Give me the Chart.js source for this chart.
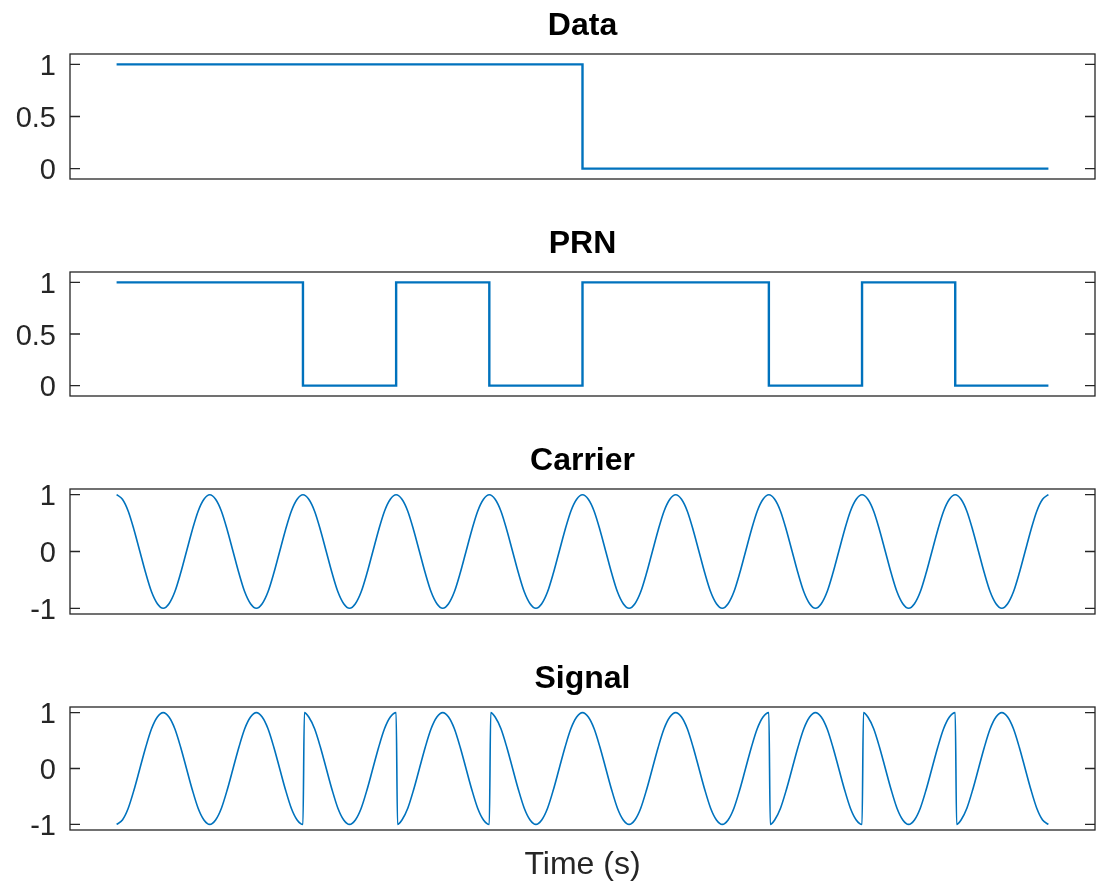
<!DOCTYPE html>
<html>
<head>
<meta charset="utf-8">
<title>Data, PRN, Carrier and Signal</title>
<script src="https://cdn.jsdelivr.net/npm/chart.js@4.4.1/dist/chart.umd.min.js"></script>
<style>
  html, body { margin: 0; padding: 0; background: #ffffff; }
  #fig { position: relative; width: 1096px; height: 890px; overflow: hidden; background: #ffffff; }
  #fig canvas { position: absolute; left: 0; }
</style>
</head>
<body>
<div id="fig">
  <canvas id="panelData"    width="1096" height="181" style="top:10px"></canvas>
  <canvas id="panelPrn"     width="1096" height="180" style="top:228px"></canvas>
  <canvas id="panelCarrier" width="1096" height="181" style="top:445px"></canvas>
  <canvas id="panelSignal"  width="1096" height="227" style="top:663px"></canvas>
</div>
<script>
// ---- data (time in seconds, one chip = 0.1 s) ----
const chipEdges = [0, 0.1, 0.2, 0.3, 0.4, 0.5, 0.6, 0.7, 0.8, 0.9, 1.0];

const dataEdges = [0, 0.5, 1.0];
const dataBits  = [1, 0];

const prnChips = [1, 1, 0, 1, 0, 1, 1, 0, 1, 0];

// carrier sampled every 1/16 of a cycle, one cycle per chip
const sampleStep = 0.00625;
const carrierValues = [
  1, 0.92, 0.71, 0.38, 0, -0.38, -0.71, -0.92, -1, -0.92, -0.71, -0.38, 0, 0.38, 0.71, 0.92,
  1, 0.92, 0.71, 0.38, 0, -0.38, -0.71, -0.92, -1, -0.92, -0.71, -0.38, 0, 0.38, 0.71, 0.92,
  1, 0.92, 0.71, 0.38, 0, -0.38, -0.71, -0.92, -1, -0.92, -0.71, -0.38, 0, 0.38, 0.71, 0.92,
  1, 0.92, 0.71, 0.38, 0, -0.38, -0.71, -0.92, -1, -0.92, -0.71, -0.38, 0, 0.38, 0.71, 0.92,
  1, 0.92, 0.71, 0.38, 0, -0.38, -0.71, -0.92, -1, -0.92, -0.71, -0.38, 0, 0.38, 0.71, 0.92,
  1, 0.92, 0.71, 0.38, 0, -0.38, -0.71, -0.92, -1, -0.92, -0.71, -0.38, 0, 0.38, 0.71, 0.92,
  1, 0.92, 0.71, 0.38, 0, -0.38, -0.71, -0.92, -1, -0.92, -0.71, -0.38, 0, 0.38, 0.71, 0.92,
  1, 0.92, 0.71, 0.38, 0, -0.38, -0.71, -0.92, -1, -0.92, -0.71, -0.38, 0, 0.38, 0.71, 0.92,
  1, 0.92, 0.71, 0.38, 0, -0.38, -0.71, -0.92, -1, -0.92, -0.71, -0.38, 0, 0.38, 0.71, 0.92,
  1, 0.92, 0.71, 0.38, 0, -0.38, -0.71, -0.92, -1, -0.92, -0.71, -0.38, 0, 0.38, 0.71, 0.92,
  1
];

// modulated signal, one row of samples per chip
const signalChips = [
  [-1, -0.92, -0.71, -0.38, 0, 0.38, 0.71, 0.92, 1, 0.92, 0.71, 0.38, 0, -0.38, -0.71, -0.92, -1],
  [-1, -0.92, -0.71, -0.38, 0, 0.38, 0.71, 0.92, 1, 0.92, 0.71, 0.38, 0, -0.38, -0.71, -0.92, -1],
  [ 1,  0.92,  0.71,  0.38, 0, -0.38, -0.71, -0.92, -1, -0.92, -0.71, -0.38, 0, 0.38, 0.71, 0.92, 1],
  [-1, -0.92, -0.71, -0.38, 0, 0.38, 0.71, 0.92, 1, 0.92, 0.71, 0.38, 0, -0.38, -0.71, -0.92, -1],
  [ 1,  0.92,  0.71,  0.38, 0, -0.38, -0.71, -0.92, -1, -0.92, -0.71, -0.38, 0, 0.38, 0.71, 0.92, 1],
  [ 1,  0.92,  0.71,  0.38, 0, -0.38, -0.71, -0.92, -1, -0.92, -0.71, -0.38, 0, 0.38, 0.71, 0.92, 1],
  [ 1,  0.92,  0.71,  0.38, 0, -0.38, -0.71, -0.92, -1, -0.92, -0.71, -0.38, 0, 0.38, 0.71, 0.92, 1],
  [-1, -0.92, -0.71, -0.38, 0, 0.38, 0.71, 0.92, 1, 0.92, 0.71, 0.38, 0, -0.38, -0.71, -0.92, -1],
  [ 1,  0.92,  0.71,  0.38, 0, -0.38, -0.71, -0.92, -1, -0.92, -0.71, -0.38, 0, 0.38, 0.71, 0.92, 1],
  [-1, -0.92, -0.71, -0.38, 0, 0.38, 0.71, 0.92, 1, 0.92, 0.71, 0.38, 0, -0.38, -0.71, -0.92, -1]
];
const jumpGap = 0.0015; // sample spacing across a phase flip

const binaryTicks  = [0, 0.5, 1];
const binaryLabels = ['0', '0.5', '1'];
const bipolarTicks  = [-1, 0, 1];
const bipolarLabels = ['-1', '0', '1'];

const timeRange = [-0.05, 1.05];

// ---- point lists built from the arrays above ----
function stepPoints(edges, levels) {
  const pts = levels.map((v, i) => ({ x: edges[i], y: v }));
  pts.push({ x: edges[edges.length - 1], y: levels[levels.length - 1] });
  return pts;
}
const carrierPoints = carrierValues.map((v, i) => ({ x: i * sampleStep, y: v }));
const signalPoints = [];
signalChips.forEach((row, k) => {
  row.forEach((v, j) => {
    let t = chipEdges[k] + j * sampleStep;
    if (j === 0 && k > 0) {
      const prev = signalPoints[signalPoints.length - 1];
      if (prev.y === v) return;
      t += jumpGap;
    }
    signalPoints.push({ x: t, y: v });
  });
});

// ---- styling ----
const LINE = '#0072BD';
const INK = '#262626';
const FONT = "'Liberation Sans', Arial, Helvetica, sans-serif";
Chart.defaults.font.family = FONT;
Chart.defaults.color = INK;

// box around each axes with inward y tick marks on both sides
const axesFrame = {
  id: 'axesFrame',
  afterDatasetsDraw(chart) {
    const { ctx, chartArea: a } = chart;
    const y = chart.scales.y;
    ctx.save();
    ctx.strokeStyle = INK;
    ctx.lineWidth = 1.3;
    ctx.strokeRect(a.left, a.top, a.right - a.left, a.bottom - a.top);
    ctx.beginPath();
    y.ticks.forEach(t => {
      const py = y.getPixelForValue(t.value);
      ctx.moveTo(a.left, py);  ctx.lineTo(a.left + 10, py);
      ctx.moveTo(a.right, py); ctx.lineTo(a.right - 10, py);
    });
    ctx.stroke();
    ctx.restore();
  }
};

function makePanel(id, cfg) {
  const xScale = {
    type: 'linear',
    min: timeRange[0],
    max: timeRange[1],
    display: !!cfg.xTitle,
    grid: { display: false, drawTicks: false },
    border: { display: false },
    ticks: { display: false },
    afterFit(s) { s.paddingLeft = 0; s.paddingRight = 0; }
  };
  if (cfg.xTitle) {
    xScale.title = {
      display: true,
      text: cfg.xTitle,
      color: INK,
      font: { size: 32, lineHeight: 1 },
      padding: { top: 19, bottom: 0 }
    };
  }
  return new Chart(document.getElementById(id), {
    type: 'line',
    data: {
      datasets: [{
        data: cfg.points,
        borderColor: LINE,
        borderWidth: cfg.width,
        pointRadius: 0,
        stepped: cfg.stepped || false,
        cubicInterpolationMode: cfg.stepped ? 'default' : 'monotone',
        borderJoinStyle: 'miter',
        fill: false
      }]
    },
    options: {
      responsive: false,
      animation: false,
      devicePixelRatio: 1,
      events: [],
      parsing: false,
      layout: { padding: { left: 0, right: 1, top: 0, bottom: cfg.bottomPad } },
      plugins: {
        legend: { display: false },
        tooltip: { enabled: false },
        title: {
          display: true,
          text: cfg.title,
          fullSize: false,
          color: '#000000',
          font: { size: 32, weight: 'bold', lineHeight: 1 },
          padding: { top: 0, bottom: 12 }
        }
      },
      scales: {
        x: xScale,
        y: {
          type: 'linear',
          min: cfg.yRange[0],
          max: cfg.yRange[1],
          grid: { display: false, drawTicks: false },
          border: { display: false },
          afterBuildTicks(s) { s.ticks = cfg.yTicks.map(v => ({ value: v })); },
          ticks: {
            padding: 14,
            labelOffset: 2.5,
            color: INK,
            font: { size: 29 },
            autoSkip: false,
            callback: (v, i) => cfg.yLabels[i]
          },
          afterFit(s) { s.width = 70; s.paddingTop = 0; s.paddingBottom = 0; }
        }
      }
    },
    plugins: [axesFrame]
  });
}

makePanel('panelData', {
  title: 'Data', points: stepPoints(dataEdges, dataBits), stepped: true, width: 2.4,
  yRange: [-0.1, 1.1], yTicks: binaryTicks, yLabels: binaryLabels, bottomPad: 12
});
makePanel('panelPrn', {
  title: 'PRN', points: stepPoints(chipEdges, prnChips), stepped: true, width: 2.4,
  yRange: [-0.1, 1.1], yTicks: binaryTicks, yLabels: binaryLabels, bottomPad: 12
});
makePanel('panelCarrier', {
  title: 'Carrier', points: carrierPoints, width: 1.6,
  yRange: [-1.1, 1.1], yTicks: bipolarTicks, yLabels: bipolarLabels, bottomPad: 12
});
makePanel('panelSignal', {
  title: 'Signal', points: signalPoints, width: 1.6,
  yRange: [-1.1, 1.1], yTicks: bipolarTicks, yLabels: bipolarLabels, bottomPad: 9,
  xTitle: 'Time (s)'
});
</script>
</body>
</html>
